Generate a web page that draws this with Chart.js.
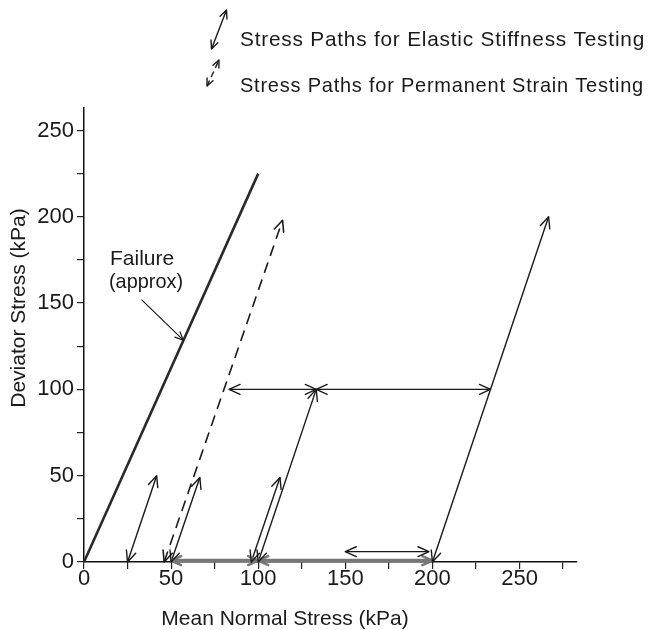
<!DOCTYPE html>
<html>
<head>
<meta charset="utf-8">
<script src="https://cdn.jsdelivr.net/npm/chart.js@4/dist/chart.umd.min.js"></script>
<style>
  html, body { margin: 0; padding: 0; background: #fff; }
  canvas { display: block; }
</style>
</head>
<body>
<canvas id="stress-chart" width="652" height="630"></canvas>
<script>
/**
 * Triaxial stress paths in p-q space (mean normal stress vs deviator stress)
 */

// Axis ticks (kPa)
const pTickValues = [0, 50, 100, 150, 200, 250];
const qTickValues = [0, 50, 100, 150, 200, 250];

// Approximate failure line
const failureP = [0, 100];
const failureQ = [0, 225];

// Elastic stiffness stress paths, one entry per path (arrow at both ends)
const elasticFromP = [25, 50, 96, 100, 83.3, 133.3, 200, 150];
const elasticFromQ = [0, 0, 0, 0, 100, 100, 0, 6];
const elasticToP = [41.7, 66.5, 112.5, 133.3, 133.3, 233.3, 266.7, 198];
const elasticToQ = [50, 49, 49, 100, 100, 100, 200, 6];

// Permanent strain stress path
const permanentFromP = [46];
const permanentFromQ = [0];
const permanentToP = [114];
const permanentToQ = [198];

// Isotropic stages along q = 0
const isotropicP = [50, 100, 200];
const isotropicQ = 0.8;

// Leader from the failure label to the failure line
const leaderP = [33, 57];
const leaderQ = [152, 128.5];

const FONT = "'Liberation Sans', 'Noto Sans', sans-serif";
const INK = '#1a1a1a';

/**
 * Build a two-point line dataset for one stress path
 */
function pathDataset(p0, q0, p1, q1, style) {
    return Object.assign({
        data: [{ x: p0, y: q0 }, { x: p1, y: q1 }],
        showLine: true,
        pointRadius: 0,
        pointHoverRadius: 0,
        borderColor: INK,
        borderWidth: 1.4,
        clip: false,
        arrowStart: true,
        arrowEnd: true,
        headSize: 12
    }, style || {});
}

const datasets = [];

datasets.push(pathDataset(failureP[0], failureQ[0], failureP[1], failureQ[1], {
    borderWidth: 2.6, borderColor: '#2a2a2a', arrowStart: false, arrowEnd: false
}));

for (let i = 0; i < isotropicP.length - 1; i++) {
    datasets.push(pathDataset(isotropicP[i], isotropicQ, isotropicP[i + 1], isotropicQ, {
        borderWidth: 3.5, borderColor: '#777', headSize: 11, headWidth: 2.5
    }));
}

for (let i = 0; i < elasticFromP.length; i++) {
    datasets.push(pathDataset(elasticFromP[i], elasticFromQ[i], elasticToP[i], elasticToQ[i]));
}

for (let i = 0; i < permanentFromP.length; i++) {
    datasets.push(pathDataset(permanentFromP[i], permanentFromQ[i], permanentToP[i], permanentToQ[i], {
        borderDash: [11, 7], borderWidth: 1.6
    }));
}

datasets.push(pathDataset(leaderP[0], leaderQ[0], leaderP[1], leaderQ[1], {
    borderWidth: 1.2, arrowStart: false, headSize: 9
}));

/**
 * Open "V" arrowhead with its tip at (x, y), pointing away from (fx, fy)
 */
function drawHead(ctx, fx, fy, x, y, size, width, color) {
    const angle = Math.atan2(y - fy, x - fx);
    const spread = 0.42;
    ctx.save();
    ctx.strokeStyle = color;
    ctx.lineWidth = width;
    ctx.lineCap = 'round';
    ctx.lineJoin = 'round';
    ctx.setLineDash([]);
    ctx.beginPath();
    ctx.moveTo(x - size * Math.cos(angle - spread), y - size * Math.sin(angle - spread));
    ctx.lineTo(x, y);
    ctx.lineTo(x - size * Math.cos(angle + spread), y - size * Math.sin(angle + spread));
    ctx.stroke();
    ctx.restore();
}

const arrowHeads = {
    id: 'arrowHeads',
    afterDatasetsDraw(chart) {
        const ctx = chart.ctx;
        chart.data.datasets.forEach((ds, i) => {
            const pts = chart.getDatasetMeta(i).data;
            if (pts.length < 2) return;
            const a = pts[0], b = pts[pts.length - 1];
            const w = ds.headWidth || ds.borderWidth;
            if (ds.arrowEnd) drawHead(ctx, a.x, a.y, b.x, b.y, ds.headSize, w, ds.borderColor);
            if (ds.arrowStart) drawHead(ctx, b.x, b.y, a.x, a.y, ds.headSize, w, ds.borderColor);
        });
    }
};

/**
 * Key, axis titles and the failure label
 */
const annotations = {
    id: 'annotations',
    afterDraw(chart) {
        const ctx = chart.ctx;
        ctx.save();
        ctx.fillStyle = INK;
        ctx.strokeStyle = INK;
        ctx.textBaseline = 'alphabetic';
        ctx.textAlign = 'left';

        // key glyphs
        ctx.lineWidth = 1.4;
        ctx.beginPath();
        ctx.moveTo(211.5, 49);
        ctx.lineTo(226.5, 10);
        ctx.stroke();
        drawHead(ctx, 211.5, 49, 226.5, 10, 9, 1.4, INK);
        drawHead(ctx, 226.5, 10, 211.5, 49, 9, 1.4, INK);

        ctx.setLineDash([6, 4]);
        ctx.beginPath();
        ctx.moveTo(207, 86);
        ctx.lineTo(219, 60);
        ctx.stroke();
        ctx.setLineDash([]);
        drawHead(ctx, 207, 86, 219, 60, 8, 1.4, INK);
        drawHead(ctx, 219, 60, 207, 86, 8, 1.4, INK);

        ctx.font = '21px ' + FONT;
        ctx.letterSpacing = '0.8px';
        ctx.fillText('Stress Paths for Elastic Stiffness Testing', 240, 46, 405);
        ctx.fillText('Stress Paths for Permanent Strain Testing', 240, 92, 404);
        ctx.letterSpacing = '0px';

        // failure label
        ctx.font = '21px ' + FONT;
        ctx.fillText('Failure', 110, 265, 68);
        ctx.fillText('(approx)', 109, 288, 74);

        // axis titles
        ctx.textAlign = 'center';
        ctx.fillText('Mean Normal Stress (kPa)', 285, 625, 250);

        ctx.translate(25, 308);
        ctx.rotate(-Math.PI / 2);
        ctx.fillText('Deviator Stress (kPa)', 0, 0, 212);
        ctx.restore();
    }
};

function axisOptions(min, max, tickValues, fitFn, pad) {
    return {
        type: 'linear',
        min: min,
        max: max,
        afterFit: fitFn,
        ticks: {
            stepSize: 25,
            includeBounds: false,
            autoSkip: false,
            maxRotation: 0,
            padding: pad,
            color: INK,
            font: { family: FONT, size: 22 },
            callback: value => tickValues.includes(value) ? String(value) : ''
        },
        grid: {
            drawOnChartArea: false,
            drawTicks: true,
            tickLength: 7,
            color: '#222',
            lineWidth: 1.2
        },
        border: { display: true, color: '#111', width: 1.5 }
    };
}

new Chart(document.getElementById('stress-chart').getContext('2d'), {
    type: 'scatter',
    data: { datasets: datasets },
    options: {
        responsive: false,
        devicePixelRatio: 1,
        animation: false,
        layout: { padding: { top: 108, right: 75, bottom: 0, left: 0 } },
        plugins: {
            legend: { display: false },
            tooltip: { enabled: false }
        },
        scales: {
            x: axisOptions(0, 283, pTickValues, scale => { scale.height = 68; }, -3),
            y: axisOptions(0, 263, qTickValues, scale => { scale.width = 84; }, 3)
        }
    },
    plugins: [arrowHeads, annotations]
});
</script>
</body>
</html>
